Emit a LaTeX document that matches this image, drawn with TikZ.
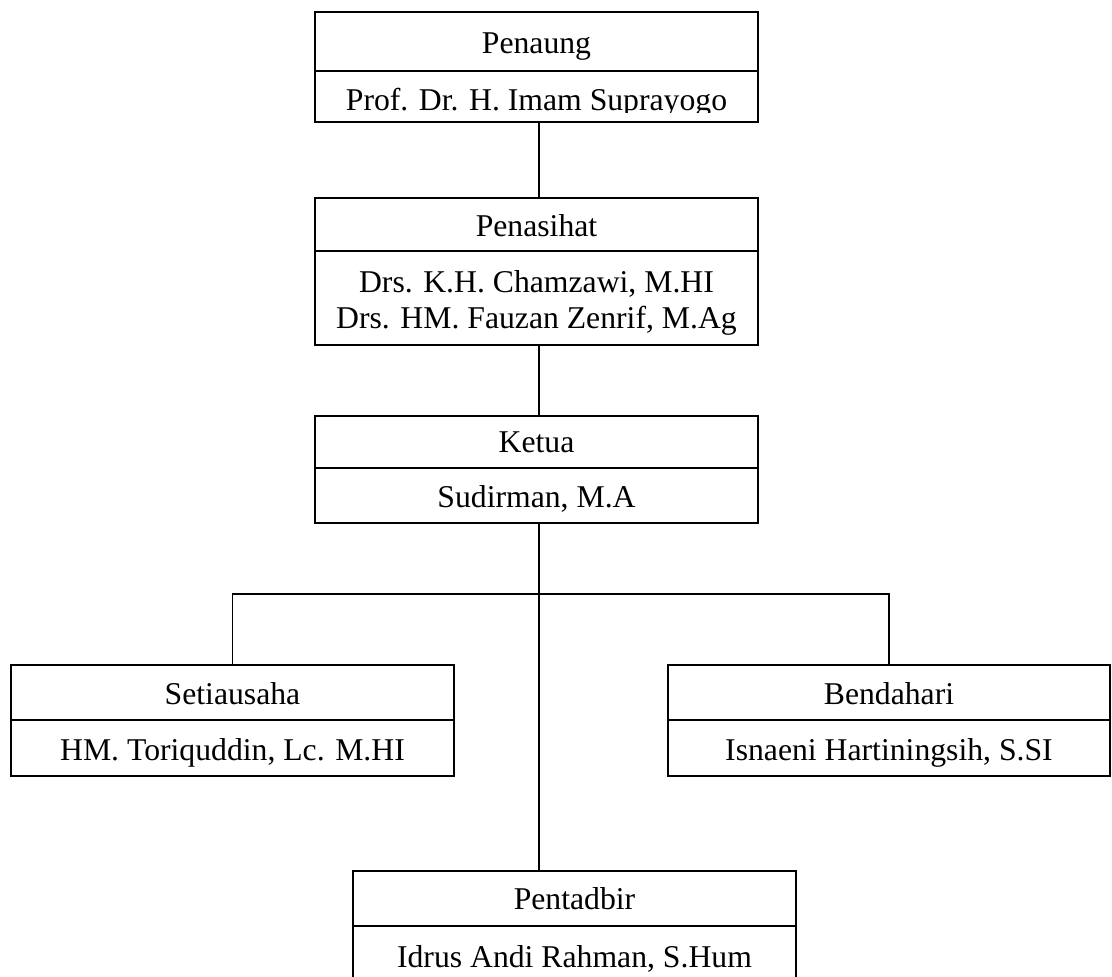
\documentclass[tikz,border=0pt]{standalone}
\usepackage{fontspec}
\setmainfont{Liberation Serif}
\begin{document}
\begin{tikzpicture}[x=1pt,y=-1pt,
  cell/.style={draw=black, line width=1.5pt, rectangle, inner sep=0pt, outer sep=0pt, anchor=north west, minimum width=443pt},
  lbl/.style={anchor=base, inner sep=0pt, outer sep=0pt, font=\fontsize{31.7}{36}\selectfont},
  link/.style={draw=black, line width=1.5pt}]
\useasboundingbox (0,0) rectangle (1112,977);
\fill[white] (0,0) rectangle (1112,977);
% Penaung
\node[cell, minimum height=59pt] (penT) at (315,12) {};
\node[cell, minimum height=51pt] (penN) at (315,71) {};
\node[lbl] (penTt) at (536.5,53) {Penaung};
\begin{scope}
\clip (315,72) rectangle (758,112);
\node[lbl] (penNt) at (536.5,110) {Prof. Dr. H. Imam Suprayogo};
\end{scope}
% Penasihat
\node[cell, minimum height=53pt] (nasT) at (315,198) {};
\node[cell, minimum height=94pt] (nasN) at (315,251) {};
\node[lbl] (nasTt) at (536.5,236) {Penasihat};
\node[lbl] (nasN1) at (536.5,292) {Drs. K.H. Chamzawi, M.HI};
\node[lbl] (nasN2) at (536.5,328) {Drs. HM. Fauzan Zenrif, M.Ag};
% Ketua
\node[cell, minimum height=52pt] (ketT) at (315,416) {};
\node[cell, minimum height=55pt] (ketN) at (315,468) {};
\node[lbl] (ketTt) at (536.5,452) {Ketua};
\node[lbl] (ketNt) at (536.5,507) {Sudirman, M.A};
% Setiausaha
\node[cell, minimum height=55pt] (setT) at (11,665) {};
\node[cell, minimum height=56pt] (setN) at (11,720) {};
\node[lbl] (setTt) at (232.5,704) {Setiausaha};
\node[lbl] (setNt) at (232.5,760) {HM. Toriquddin, Lc. M.HI};
% Bendahari
\node[cell, minimum width=442pt, minimum height=55pt] (benT) at (668,665) {};
\node[cell, minimum width=442pt, minimum height=56pt] (benN) at (668,720) {};
\node[lbl] (benTt) at (889,704) {Bendahari};
\node[lbl] (benNt) at (889,760) {Isnaeni Hartiningsih, S.SI};
% Pentadbir
\node[cell, minimum height=55pt] (penaT) at (353,871) {};
\node[cell, minimum height=56pt] (penaN) at (353,926) {};
\node[lbl] (penaTt) at (574.5,909) {Pentadbir};
\node[lbl] (penaNt) at (574.5,967) {Idrus Andi Rahman, S.Hum};
% connectors
\coordinate (spine) at (539,0);
\coordinate (bar) at (539,594);
\draw[link] (penN.south -| spine) -- (nasT.north -| spine);
\draw[link] (nasN.south -| spine) -- (ketT.north -| spine);
\draw[link] (ketN.south -| spine) -- (penaT.north -| spine);
\draw[link] (setT.north) |- (bar) -| (benT.north);
\end{tikzpicture}
\end{document}
